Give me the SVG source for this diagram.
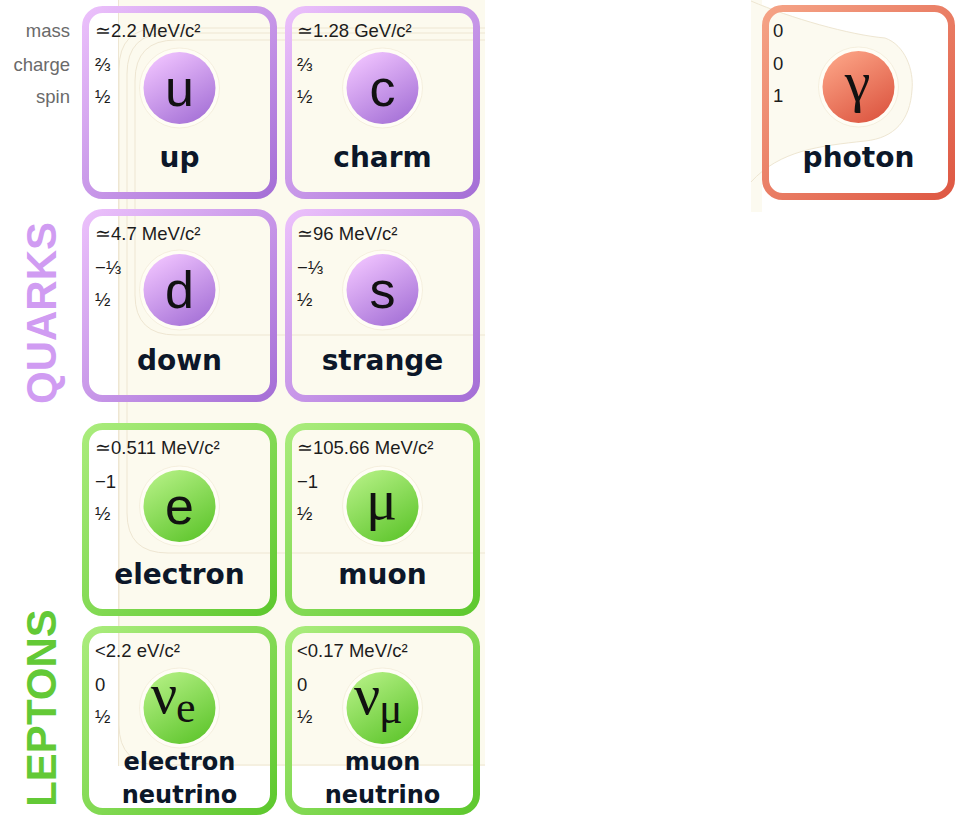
<svg xmlns="http://www.w3.org/2000/svg" width="968" height="816" viewBox="0 0 968 816">
  <style>
    .val { font-family: "Liberation Sans", Arial, sans-serif; font-size: 18.5px; fill: #1c1c1c; }
    .hdr { font-family: "Liberation Sans", Arial, sans-serif; font-size: 18.5px; fill: #6a6a6a; text-anchor: end; }
    .name { font-family: "DejaVu Sans", sans-serif; font-weight: bold; font-size: 28px; fill: #0c1729; text-anchor: middle; }
    .name2 { font-family: "DejaVu Sans", sans-serif; font-weight: bold; font-size: 24px; fill: #0c1729; text-anchor: middle; }
    .sym { font-family: "Liberation Sans", Arial, sans-serif; font-size: 52px; fill: #111; text-anchor: middle; }
    .gsym { font-family: "Liberation Serif", "Times New Roman", serif; font-size: 58px; fill: #111; text-anchor: middle; }
    .nu { font-family: "Liberation Serif", "Times New Roman", serif; font-size: 58px; fill: #111; }
    .sub { font-family: "Liberation Serif", "Times New Roman", serif; font-size: 44px; fill: #111; }
    .card { fill: none; stroke-width: 7; }
    .q { stroke: url(#qStroke); }
    .l { stroke: url(#lStroke); }
    .b { stroke: url(#bStroke); }
    .halo { fill: #fffdf5; stroke: #f1ead6; stroke-width: 0.7; }
    .bgline { fill: none; stroke: #eee6d2; stroke-width: 1; }
    .group { font-family: "Liberation Sans", Arial, sans-serif; font-weight: bold; font-size: 42px; text-anchor: middle; }
  </style>
  <defs>
    <linearGradient id="qStroke" x1="0" y1="0" x2="1" y2="1">
      <stop offset="0" stop-color="#ebc0fb"/>
      <stop offset="1" stop-color="#a56fd6"/>
    </linearGradient>
    <linearGradient id="lStroke" x1="0" y1="0" x2="1" y2="1">
      <stop offset="0" stop-color="#aaec7c"/>
      <stop offset="1" stop-color="#5ec82e"/>
    </linearGradient>
    <linearGradient id="bStroke" x1="0" y1="0" x2="1" y2="1">
      <stop offset="0" stop-color="#f5a386"/>
      <stop offset="1" stop-color="#de5843"/>
    </linearGradient>
    <linearGradient id="qBall" x1="0.2" y1="0" x2="0.8" y2="1">
      <stop offset="0" stop-color="#f1c4ff"/>
      <stop offset="1" stop-color="#a470d6"/>
    </linearGradient>
    <linearGradient id="lBall" x1="0.2" y1="0" x2="0.8" y2="1">
      <stop offset="0" stop-color="#b4f084"/>
      <stop offset="1" stop-color="#5ec52c"/>
    </linearGradient>
    <linearGradient id="bBall" x1="0.2" y1="0" x2="0.8" y2="1">
      <stop offset="0" stop-color="#fca486"/>
      <stop offset="1" stop-color="#dc5540"/>
    </linearGradient>
  </defs>

  <!-- backdrop panels -->
  <g id="backdrop">
    <rect x="118" y="0" width="367" height="766" fill="#fcfaee"/>
    <line class="bgline" x1="118.5" y1="0" x2="118.5" y2="766"/>
    <path class="bgline" d="M485 28 H160 Q119 28 119 69 V725 Q119 765 160 765 H485"/>
    <path class="bgline" d="M485 33 H168 Q127 33 127 74 V513 Q127 553 168 553 H485"/>
    <path class="bgline" d="M485 40 H176 Q135 40 135 81 V295 Q135 335 176 335 H485"/>
    <rect x="751" y="0" width="11" height="212" fill="#fcfaf0"/>
    <path d="M751 0 C790 18 850 35 885 38 C905 45 914 70 912 90 C910 120 895 138 865 141 C820 146 780 150 751 182 Z" fill="#fcfaf0"/>
    <path class="bgline" d="M751 1 C790 18 850 35 885 38 C905 45 914 70 912 90 C910 120 895 138 865 141 C820 146 780 150 751 182"/>
  </g>

  <!-- row captions -->
  <g id="captions">
    <text class="hdr" x="70" y="37">mass</text>
    <text class="hdr" x="70" y="71">charge</text>
    <text class="hdr" x="70" y="103">spin</text>
  </g>

  <g id="family-labels">
    <text class="group" fill="#d09cf2" transform="translate(56 313) rotate(-90)">QUARKS</text>
    <text class="group" fill="#63c936" transform="translate(56 708) rotate(-90)">LEPTONS</text>
  </g>

  <g id="up">
    <rect class="card q" x="85.5" y="9.5" width="188" height="186" rx="17"/>
    <text class="val" x="95" y="37">≃2.2 MeV/c²</text>
    <text class="val" x="95" y="71">⅔</text>
    <text class="val" x="95" y="103">½</text>
    <circle class="halo" cx="179.5" cy="88" r="40"/>
    <circle cx="179.5" cy="88" r="36" fill="url(#qBall)"/>
    <text class="sym" x="179.5" y="106">u</text>
    <text class="name" x="179.5" y="167">up</text>
  </g>

  <g id="charm">
    <rect class="card q" x="288.5" y="9.5" width="188" height="186" rx="17"/>
    <text class="val" x="297" y="37">≃1.28 GeV/c²</text>
    <text class="val" x="297" y="71">⅔</text>
    <text class="val" x="297" y="103">½</text>
    <circle class="halo" cx="382.5" cy="88" r="40"/>
    <circle cx="382.5" cy="88" r="36" fill="url(#qBall)"/>
    <text class="sym" x="382.5" y="106">c</text>
    <text class="name" x="382.5" y="167">charm</text>
  </g>

  <g id="down">
    <rect class="card q" x="85.5" y="212.5" width="188" height="186" rx="17"/>
    <text class="val" x="95" y="240">≃4.7 MeV/c²</text>
    <text class="val" x="95" y="274">−⅓</text>
    <text class="val" x="95" y="306">½</text>
    <circle class="halo" cx="179.5" cy="290" r="40"/>
    <circle cx="179.5" cy="290" r="36" fill="url(#qBall)"/>
    <text class="sym" x="179.5" y="308">d</text>
    <text class="name" x="179.5" y="370">down</text>
  </g>

  <g id="strange">
    <rect class="card q" x="288.5" y="212.5" width="188" height="186" rx="17"/>
    <text class="val" x="297" y="240">≃96 MeV/c²</text>
    <text class="val" x="297" y="274">−⅓</text>
    <text class="val" x="297" y="306">½</text>
    <circle class="halo" cx="382.5" cy="290" r="40"/>
    <circle cx="382.5" cy="290" r="36" fill="url(#qBall)"/>
    <text class="sym" x="382.5" y="308">s</text>
    <text class="name" x="382.5" y="370">strange</text>
  </g>

  <g id="electron">
    <rect class="card l" x="85.5" y="426.5" width="188" height="186" rx="17"/>
    <text class="val" x="95" y="454">≃0.511 MeV/c²</text>
    <text class="val" x="95" y="488">−1</text>
    <text class="val" x="95" y="520">½</text>
    <circle class="halo" cx="179.5" cy="506" r="40"/>
    <circle cx="179.5" cy="506" r="36" fill="url(#lBall)"/>
    <text class="sym" x="179.5" y="524">e</text>
    <text class="name" x="179.5" y="584">electron</text>
  </g>

  <g id="muon">
    <rect class="card l" x="288.5" y="426.5" width="188" height="186" rx="17"/>
    <text class="val" x="297" y="454">≃105.66 MeV/c²</text>
    <text class="val" x="297" y="488">−1</text>
    <text class="val" x="297" y="520">½</text>
    <circle class="halo" cx="382.5" cy="506" r="40"/>
    <circle cx="382.5" cy="506" r="36" fill="url(#lBall)"/>
    <text class="gsym" x="381.5" y="519">μ</text>
    <text class="name" x="382.5" y="584">muon</text>
  </g>

  <g id="electron-neutrino">
    <rect class="card l" x="85.5" y="629.5" width="188" height="182" rx="17"/>
    <text class="val" x="95" y="657">&lt;2.2 eV/c²</text>
    <text class="val" x="95" y="691">0</text>
    <text class="val" x="95" y="723">½</text>
    <circle class="halo" cx="179.5" cy="708" r="40"/>
    <circle cx="179.5" cy="708" r="36" fill="url(#lBall)"/>
    <text class="nu" x="151" y="713">ν</text>
    <text class="sub" x="176" y="722">e</text>
    <text class="name2" x="179.5" y="770">electron</text>
    <text class="name2" x="179.5" y="803">neutrino</text>
  </g>

  <g id="muon-neutrino">
    <rect class="card l" x="288.5" y="629.5" width="188" height="182" rx="17"/>
    <text class="val" x="297" y="657">&lt;0.17 MeV/c²</text>
    <text class="val" x="297" y="691">0</text>
    <text class="val" x="297" y="723">½</text>
    <circle class="halo" cx="382.5" cy="708" r="40"/>
    <circle cx="382.5" cy="708" r="36" fill="url(#lBall)"/>
    <text class="nu" x="354" y="714">ν</text>
    <text class="sub" x="379" y="723">μ</text>
    <text class="name2" x="382.5" y="770">muon</text>
    <text class="name2" x="382.5" y="803">neutrino</text>
  </g>

  <g id="photon">
    <rect class="card b" x="765.5" y="8.5" width="186" height="188" rx="17"/>
    <text class="val" x="773" y="37">0</text>
    <text class="val" x="773" y="70">0</text>
    <text class="val" x="773" y="102">1</text>
    <circle class="halo" cx="858.5" cy="87" r="40"/>
    <circle cx="858.5" cy="87" r="36" fill="url(#bBall)"/>
    <text class="gsym" x="857.5" y="101">γ</text>
    <text class="name" x="858.5" y="167">photon</text>
  </g>
</svg>
